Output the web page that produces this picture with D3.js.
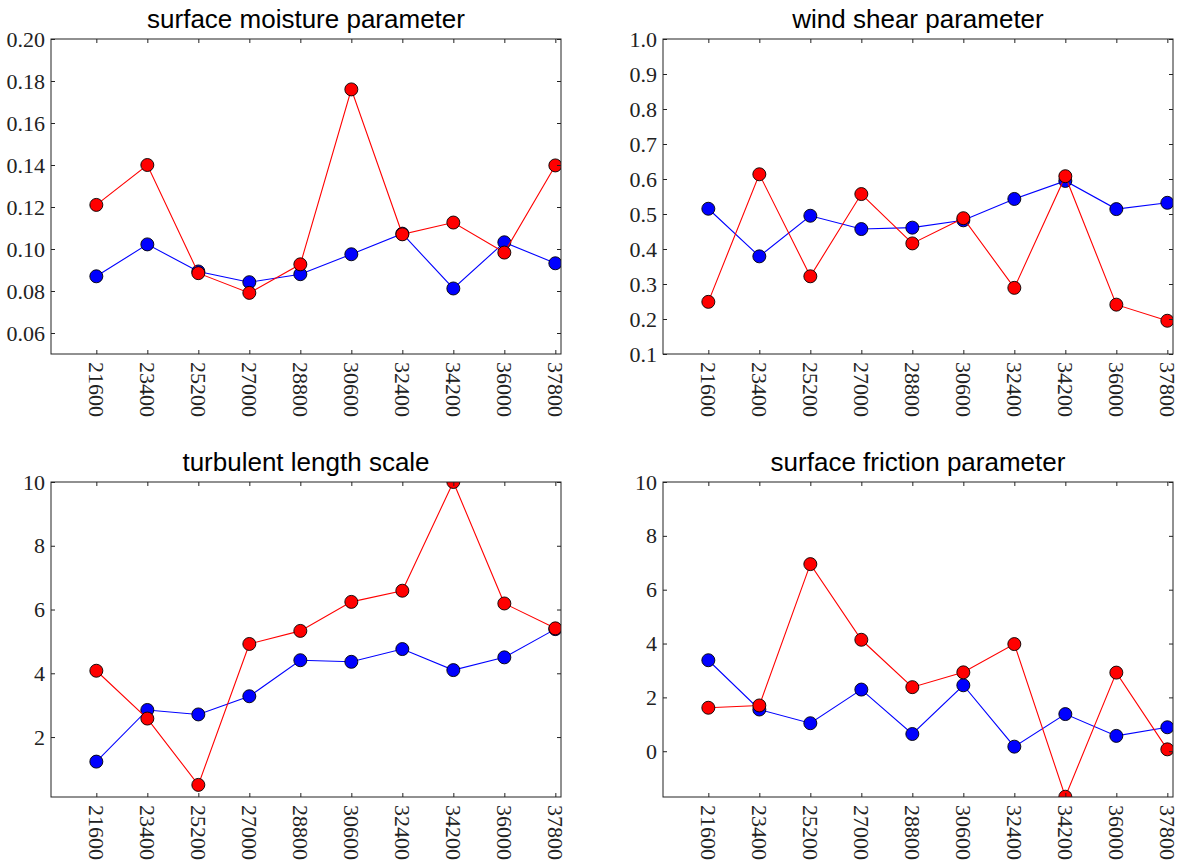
<!DOCTYPE html>
<html>
<head>
<meta charset="utf-8">
<script src="https://cdn.jsdelivr.net/npm/d3@7"></script>
<style>
  body { margin: 0; background: #fff; }
</style>
</head>
<body>
<script>
// x positions shared by all four panels
var times = [21600, 23400, 25200, 27000, 28800, 30600, 32400, 34200, 36000, 37800];

// surface moisture parameter
var moistureBlue = [0.087, 0.1022, 0.0893, 0.0842, 0.0880, 0.0975, 0.1073, 0.0812, 0.1032, 0.0932];
var moistureRed  = [0.121, 0.140, 0.0885, 0.0791, 0.0927, 0.176, 0.107, 0.1126, 0.0983, 0.1398];
var moistureTicks = [0.06, 0.08, 0.10, 0.12, 0.14, 0.16, 0.18, 0.20];

// wind shear parameter
var shearBlue = [0.515, 0.379, 0.495, 0.457, 0.461, 0.482, 0.543, 0.5945, 0.514, 0.532];
var shearRed  = [0.249, 0.6135, 0.322, 0.557, 0.416, 0.488, 0.289, 0.608, 0.241, 0.195];
var shearTicks = [0.1, 0.2, 0.3, 0.4, 0.5, 0.6, 0.7, 0.8, 0.9, 1.0];

// turbulent length scale
var lengthBlue = [1.23, 2.85, 2.71, 3.28, 4.41, 4.36, 4.76, 4.10, 4.50, 5.385];
var lengthRed  = [4.08, 2.58, 0.50, 4.92, 5.33, 6.24, 6.59, 10.0, 6.19, 5.41];
var lengthTicks = [2, 4, 6, 8, 10];

// surface friction parameter
var frictionBlue = [3.38, 1.55, 1.04, 2.29, 0.64, 2.45, 0.17, 1.38, 0.57, 0.89];
var frictionRed  = [1.615, 1.70, 6.95, 4.14, 2.38, 2.93, 3.98, -1.69, 2.92, 0.07];
var frictionTicks = [0, 2, 4, 6, 8, 10];

var W = 1183, H = 865;
var svg = d3.select("body").append("svg")
    .attr("width", W)
    .attr("height", H);

var panels = [
    {title: "surface moisture parameter", blue: moistureBlue, red: moistureRed, ticks: moistureTicks,
     ylim: [0.05, 0.20], fmt: d3.format(".2f"), left: 51, top: 39},
    {title: "wind shear parameter", blue: shearBlue, red: shearRed, ticks: shearTicks,
     ylim: [0.1, 1.0], fmt: d3.format(".1f"), left: 663, top: 39},
    {title: "turbulent length scale", blue: lengthBlue, red: lengthRed, ticks: lengthTicks,
     ylim: [0.12, 10], fmt: d3.format("d"), left: 51, top: 482},
    {title: "surface friction parameter", blue: frictionBlue, red: frictionRed, ticks: frictionTicks,
     ylim: [-1.7, 10], fmt: d3.format("d"), left: 663, top: 482}
];

var pw = 510, ph = 315;

panels.forEach(function(p, i) {
    var g = svg.append("g")
        .attr("transform", "translate(" + p.left + "," + p.top + ")");

    var x = d3.scaleLinear().domain([20000, 38000]).range([0, pw]);
    var y = d3.scaleLinear().domain(p.ylim).range([ph, 0]);

    // clip so markers at the edge get cut like in matplotlib
    g.append("clipPath").attr("id", "clip" + i)
        .append("rect").attr("width", pw).attr("height", ph);

    var plot = g.append("g").attr("clip-path", "url(#clip" + i + ")");

    var line = d3.line()
        .x(function(d, j) { return x(times[j]); })
        .y(function(d) { return y(d); });

    [[p.blue, "#0000ff"], [p.red, "#ff0000"]].forEach(function(s) {
        plot.append("path")
            .datum(s[0])
            .attr("d", line)
            .attr("fill", "none")
            .attr("stroke", s[1])
            .attr("stroke-width", 1.1);
        plot.selectAll(null)
            .data(s[0])
            .enter()
            .append("circle")
            .attr("cx", function(d, j) { return x(times[j]); })
            .attr("cy", function(d) { return y(d); })
            .attr("r", 6.5)
            .attr("fill", s[1])
            .attr("stroke", "#000")
            .attr("stroke-width", 0.9);
    });

    // axes, ticks pointing inward
    var yAxis = d3.axisLeft(y).tickValues(p.ticks).tickFormat(p.fmt)
        .tickSizeInner(-4).tickSizeOuter(0).tickPadding(6);
    var yAxisR = d3.axisRight(y).tickValues(p.ticks).tickFormat("")
        .tickSizeInner(-4).tickSizeOuter(0);
    var xAxis = d3.axisBottom(x).tickValues(times).tickFormat(d3.format("d"))
        .tickSizeInner(-4).tickSizeOuter(0);
    var xAxisT = d3.axisTop(x).tickValues(times).tickFormat("")
        .tickSizeInner(-4).tickSizeOuter(0);

    g.append("g").call(yAxis);
    g.append("g").attr("transform", "translate(" + pw + ",0)").call(yAxisR);
    g.append("g").call(xAxisT);
    var xa = g.append("g").attr("transform", "translate(0," + ph + ")").call(xAxis);
    xa.selectAll("text")
        .attr("transform", "rotate(90)")
        .attr("x", 8)
        .attr("y", 0)
        .attr("dy", "0.35em")
        .attr("text-anchor", "start");

    g.selectAll(".domain").remove();
    g.selectAll(".tick line").attr("stroke", "#222");
    g.selectAll(".tick text")
        .style("font-family", "'Liberation Serif', 'Times New Roman', serif")
        .style("font-size", "22px")
        .style("fill", "#222");

    g.append("rect")
        .attr("width", pw)
        .attr("height", ph)
        .attr("fill", "none")
        .attr("stroke", "#222")
        .attr("stroke-width", 1);

    g.append("text")
        .attr("x", pw / 2)
        .attr("y", -11)
        .attr("text-anchor", "middle")
        .style("font-family", "'Liberation Sans', Arial, sans-serif")
        .style("font-size", "26px")
        .style("fill", "#000")
        .text(p.title);
});
</script>
</body>
</html>
